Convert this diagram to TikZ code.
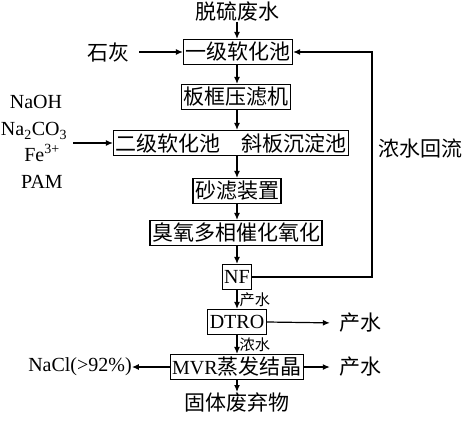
\documentclass[tikz,border=0pt]{standalone}
\usepackage{fontspec}
\setmainfont{Liberation Serif}
\newfontfamily\cjk[Scale=1.05]{Noto Sans CJK SC}
\usetikzlibrary{positioning,arrows.meta}
\begin{document}
\begin{tikzpicture}[x=1pt,y=-1pt]
\tikzset{
    unit/.style={draw, line width=1.2pt, inner xsep=2pt, inner ysep=1pt, minimum height=25pt, font=\fontsize{20}{20}\selectfont},
    txt/.style={inner sep=0pt, font=\fontsize{20}{20}\selectfont},
    note/.style={inner sep=0pt, font=\cjk\fontsize{14.5}{14.5}\selectfont},
    flow/.style={-{Latex[length=7pt,width=6pt]}, line width=1.2pt},
}
\useasboundingbox (0,0) rectangle (464,431);

% Main treatment chain.
\node[txt]  (feed)  at (237,12)  {\cjk 脱硫废水};
\node[unit] (soft1) at (238,52)  {\cjk 一级软化池};
\node[unit] (press) at (236,97)  {\cjk 板框压滤机};
\node[unit] (soft2) at (231,143) {\cjk 二级软化池\quad 斜板沉淀池};
\node[unit] (sand)  at (237,191) {\cjk 砂滤装置};
\node[unit] (ozone) at (236,233) {\cjk 臭氧多相催化氧化};
\node[unit] (nf)    at (237,277) {NF};
\node[unit] (dtro)  at (237,322) {DTRO};
\node[unit] (mvr)   at (237,367) {MVR{\cjk 蒸发结晶}};
\node[txt]  (solid) at (237,402) {\cjk 固体废弃物};

% Dosing and products.
\node[txt] (lime)   at (108,52)  {\cjk 石灰};
\node[txt] (naoh)   at (36,102)  {NaOH};
\node[txt] (na2co3) at (34,131)  {Na\textsubscript{2}CO\textsubscript{3}};
\node[txt] (fe)     at (42,153)  {Fe\textsuperscript{3+}};
\node[txt] (pam)    at (42,182)  {PAM};
\node[txt] (back)   at (420,149) {\cjk 浓水回流};
\node[txt] (water1) at (360,323) {\cjk 产水};
\node[txt] (water2) at (360,367) {\cjk 产水};
\node[txt] (nacl)   at (80,367)  {NaCl(>92\%)};
\coordinate (dose) at (73,143);
\coordinate (ret)  at (372,0);

% Arrows down the chain.
\draw[flow] (feed.south) -- (soft1.north -| feed);
\draw[flow] (soft1.south -| feed) -- (press.north -| feed);
\draw[flow] (press.south -| feed) -- (soft2.north -| feed);
\draw[flow] (soft2.south -| feed) -- (sand.north -| feed);
\draw[flow] (sand.south -| feed) -- (ozone.north -| feed);
\draw[flow] (ozone.south -| feed) -- (nf.north);
\draw[flow] (nf.south) -- node[note, right=2pt] {产水} (dtro.north);
\draw[flow] (dtro.south) -- node[note, right=2pt] {浓水} (mvr.north);
\draw[flow] (mvr.south) -- (solid.north);

% Side streams.
\draw[flow] ([xshift=10pt]lime.east) -- (soft1.west);
\draw[flow] (dose) -- (soft2.west);
\draw[flow] (nf.east) -| (ret |- soft1) -- (soft1.east);
\draw[flow, shorten >=9pt] (dtro.east) -- (water1.west);
\draw[flow, shorten >=9pt] (mvr.east) -- (water2.west);
\draw[flow] (mvr.west) -- (nacl.east);
\end{tikzpicture}
\end{document}
